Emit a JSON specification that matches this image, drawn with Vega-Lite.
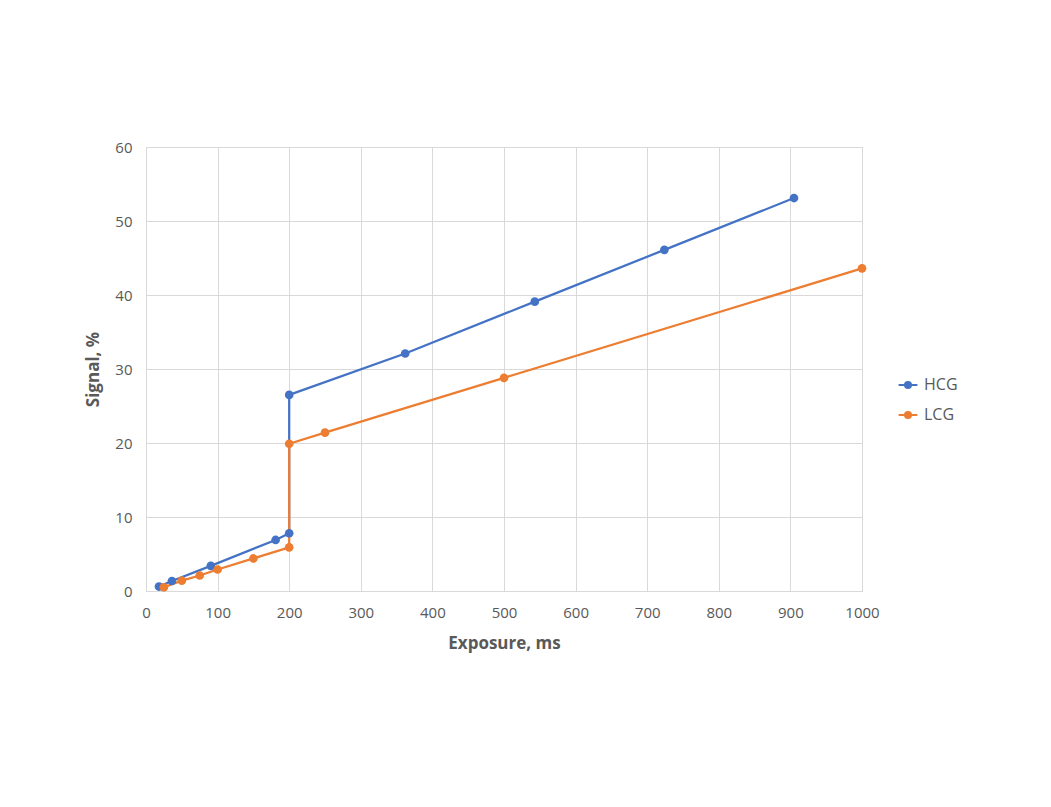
{
  "$schema": "https://vega.github.io/schema/vega-lite/v6.json",
  "width": 716,
  "height": 444,
  "autosize": {"type": "none"},
  "padding": {"left": 146, "top": 147, "right": 189, "bottom": 216},
  "background": "white",
  "config": {
    "font": "Open Sans",
    "view": {"stroke": "#d9d9d9", "strokeWidth": 1},
    "axis": {"labelFont": "Open Sans", "titleFont": "Open Sans"}
  },
  "data": {
    "values": [
      {"series": "HCG", "i": 1, "exposure": 18.1, "signal": 0.6},
      {"series": "HCG", "i": 2, "exposure": 36.2, "signal": 1.35},
      {"series": "HCG", "i": 3, "exposure": 90.5, "signal": 3.4},
      {"series": "HCG", "i": 4, "exposure": 181, "signal": 6.9},
      {"series": "HCG", "i": 5, "exposure": 200, "signal": 7.8},
      {"series": "HCG", "i": 6, "exposure": 200, "signal": 26.5},
      {"series": "HCG", "i": 7, "exposure": 362, "signal": 32.1},
      {"series": "HCG", "i": 8, "exposure": 543, "signal": 39.1},
      {"series": "HCG", "i": 9, "exposure": 724, "signal": 46.1},
      {"series": "HCG", "i": 10, "exposure": 905, "signal": 53.1},
      {"series": "LCG", "i": 1, "exposure": 25, "signal": 0.5},
      {"series": "LCG", "i": 2, "exposure": 50, "signal": 1.4},
      {"series": "LCG", "i": 3, "exposure": 75, "signal": 2.1},
      {"series": "LCG", "i": 4, "exposure": 100, "signal": 2.9},
      {"series": "LCG", "i": 5, "exposure": 150, "signal": 4.4},
      {"series": "LCG", "i": 6, "exposure": 200, "signal": 5.9},
      {"series": "LCG", "i": 7, "exposure": 200, "signal": 19.9},
      {"series": "LCG", "i": 8, "exposure": 250, "signal": 21.4},
      {"series": "LCG", "i": 9, "exposure": 500, "signal": 28.8},
      {"series": "LCG", "i": 10, "exposure": 1000, "signal": 43.6}
    ]
  },
  "encoding": {
    "x": {
      "field": "exposure", "type": "quantitative",
      "scale": {"domain": [0, 1000], "nice": false},
      "axis": {
        "title": "Exposure, ms", "values": [0,100,200,300,400,500,600,700,800,900,1000],
        "format": "d", "labelFlush": false,
        "grid": true, "gridColor": "#d9d9d9", "ticks": false,
        "domainColor": "#d9d9d9", "labelColor": "#595959", "labelFontSize": 15,
        "labelPadding": 14, "titleColor": "#595959", "titleFontSize": 17,
        "titleFontWeight": "bold", "titlePadding": 15
      }
    },
    "y": {
      "field": "signal", "type": "quantitative",
      "scale": {"domain": [0, 60], "nice": false},
      "axis": {
        "title": "Signal, %", "values": [0,10,20,30,40,50,60],
        "grid": true, "gridColor": "#d9d9d9", "ticks": false, "domain": false,
        "labelColor": "#595959", "labelFontSize": 15, "labelPadding": 14,
        "titleColor": "#595959", "titleFontSize": 17, "titleFontWeight": "bold",
        "titlePadding": 12
      }
    },
    "color": {
      "field": "series", "type": "nominal",
      "scale": {"domain": ["HCG", "LCG"], "range": ["#4472C4", "#ED7D31"]},
      "legend": {
        "title": null, "orient": "none", "legendX": 754, "legendY": 230,
        "labelFontSize": 16, "labelColor": "#595959", "rowPadding": 14,
        "symbolType": "M-1.4,0H1.4M0.45,0A0.45,0.45,0,1,1,-0.45,0A0.45,0.45,0,1,1,0.45,0Z",
        "symbolSize": 180, "symbolStrokeWidth": 2, "labelOffset": 8
      }
    },
    "order": {"field": "i", "type": "quantitative"}
  },
  "layer": [
    {"mark": {"type": "line", "strokeWidth": 2.25}},
    {"mark": {"type": "point", "filled": true, "size": 75, "opacity": 1}}
  ]
}
